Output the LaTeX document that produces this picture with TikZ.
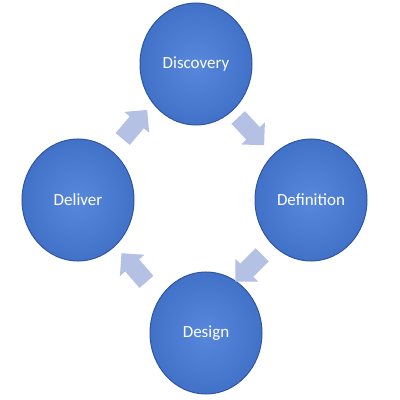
\documentclass[tikz,border=0pt]{standalone}
\usepackage{fontspec}
\setmainfont{Carlito}
\usetikzlibrary{shapes.arrows,shapes.geometric}
\definecolor{phaseblue}{RGB}{66,114,200}
\definecolor{phaselight}{RGB}{88,136,220}
\definecolor{phasedark}{RGB}{47,85,160}
\definecolor{stepgrey}{RGB}{180,192,228}

\begin{document}
\begin{tikzpicture}[x=1pt,y=1pt]
	 \tikzstyle{phase}=[ellipse,minimum width=112pt,minimum height=122pt,inner sep=0pt,
	   inner color=phaselight,outer color=phaseblue,draw=phasedark,line width=1pt,
	   text=white,font=\fontsize{17}{20}\selectfont]
	 \tikzstyle{turn}=[single arrow,fill=stepgrey,draw=none,minimum height=38pt,
	   inner sep=9pt,single arrow head extend=7pt,anchor=center]
	 \useasboundingbox (0,0) rectangle (400,400);
	 \node[phase] (disc) at (196,336) {Discovery};
	 \node[phase] (defn) at (311,200) {Definition};
	 \node[phase] (desg) at (206,67) {Design};
	 \node[phase] (delv) at (78,200) {Deliver};
	 \node[turn,rotate=-47] (a1) at (248,272) {};
	 \node[turn,rotate=-135] (a2) at (252,135) {};
	 \node[turn,rotate=131] (a3) at (137,129) {};
	 \node[turn,rotate=50] (a4) at (132,272) {};
\end{tikzpicture}
\end{document}
